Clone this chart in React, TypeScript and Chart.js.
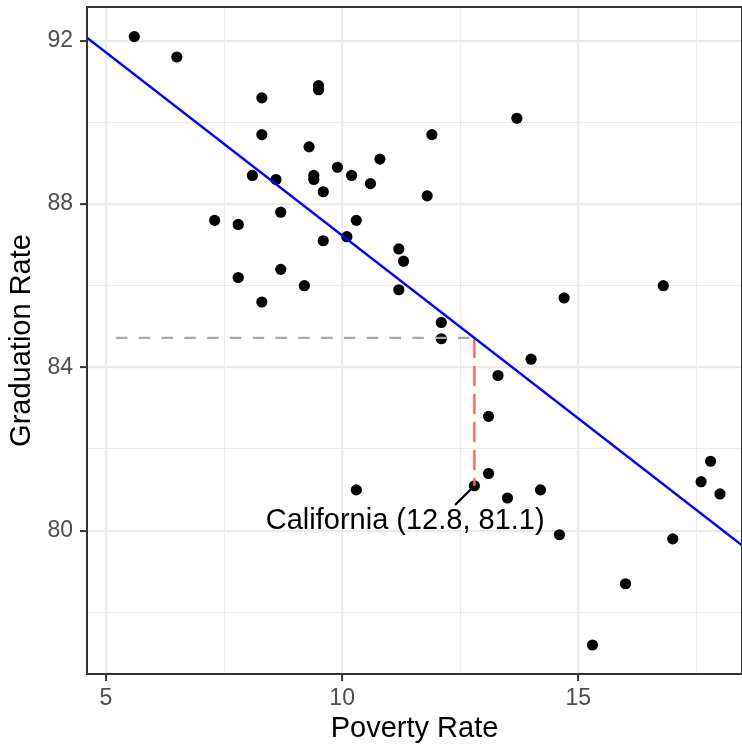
import React, { useEffect, useRef } from "react";
import { Chart, registerables } from "chart.js";

Chart.register(...registerables);

// ---- data ----
const povertyRate = [
  5.6, 6.5, 7.3, 7.8, 8.1, 8.3, 8.3, 8.6, 8.7, 7.8,
  8.7, 8.3, 9.2, 9.5, 9.5, 9.3, 9.4, 9.4, 9.6, 9.9,
  10.2, 10.8, 10.6, 11.9, 11.8, 9.6, 10.3, 10.1, 11.2, 11.3,
  11.2, 12.1, 12.1, 13.3, 14.0, 13.1, 14.7, 16.8, 13.7, 10.3,
  13.1, 12.8, 13.5, 14.2, 14.6, 16.0, 15.3, 17.0, 17.6, 17.8,
  18.0,
];
const graduationRate = [
  92.1, 91.6, 87.6, 87.5, 88.7, 90.6, 89.7, 88.6, 87.8, 86.2,
  86.4, 85.6, 86.0, 90.9, 90.8, 89.4, 88.7, 88.6, 88.3, 88.9,
  88.7, 89.1, 88.5, 89.7, 88.2, 87.1, 87.6, 87.2, 86.9, 86.6,
  85.9, 85.1, 84.7, 83.8, 84.2, 82.8, 85.7, 86.0, 90.1, 81.0,
  81.4, 81.1, 80.8, 81.0, 79.9, 78.7, 77.2, 79.8, 81.2, 81.7,
  80.9,
];

// fitted line
const fitIntercept = 96.19;
const fitSlope = -0.896;

// highlighted state
const highlightName = "California";
const highlightX = 12.8;
const highlightY = 81.1;
const guideStartX = 5.21;
const labelAt = [11.335, 80.24];
const leaderEnd = [12.39, 80.63];

// axes
const xRange = [4.598, 18.466];
const yRange = [76.49, 92.825];
const xTicks = [5, 7.5, 10, 12.5, 15, 17.5];
const xMajor = [5, 10, 15];
const yTicks = [78, 80, 82, 84, 86, 88, 90, 92];
const yMajor = [80, 84, 88, 92];

const FONT = '"Liberation Sans", Arial, sans-serif';

const fitAt = (x: number) => fitIntercept + fitSlope * x;

const overlayPlugin = {
  id: "overlay",
  afterDraw(chart: any) {
    const { ctx, chartArea, scales } = chart;
    ctx.save();
    ctx.font = `29px ${FONT}`;
    ctx.fillStyle = "#000000";
    ctx.textAlign = "center";
    ctx.textBaseline = "middle";
    ctx.fillText(
      `${highlightName} (${highlightX}, ${highlightY})`,
      scales.x.getPixelForValue(labelAt[0]),
      scales.y.getPixelForValue(labelAt[1])
    );
    ctx.strokeStyle = "#333333";
    ctx.lineWidth = 2;
    ctx.strokeRect(
      chartArea.left,
      chartArea.top,
      chartArea.right - chartArea.left,
      chartArea.bottom - chartArea.top
    );
    ctx.restore();
  },
};

export default function App() {
  const ref = useRef<HTMLCanvasElement>(null);

  useEffect(() => {
    document.body.style.margin = "0";
    const points = povertyRate.map((x, i) => ({ x, y: graduationRate[i] }));
    const fitY = fitAt(highlightX);

    const chart = new Chart(ref.current as HTMLCanvasElement, {
      type: "scatter",
      data: {
        datasets: [
          {
            data: [
              { x: xRange[0], y: fitAt(xRange[0]) },
              { x: xRange[1], y: fitAt(xRange[1]) },
            ],
            showLine: true,
            borderColor: "#0000FF",
            borderWidth: 2.4,
            pointRadius: 0,
          },
          {
            data: [
              { x: guideStartX, y: fitY },
              { x: highlightX, y: fitY },
            ],
            showLine: true,
            borderColor: "#A9A9A9",
            borderWidth: 2.4,
            borderDash: [11.5, 11.3],
            pointRadius: 0,
          },
          {
            data: [
              { x: highlightX, y: fitY },
              { x: highlightX, y: highlightY },
            ],
            showLine: true,
            borderColor: "#F8665A",
            borderWidth: 2.4,
            borderDash: [20, 8],
            pointRadius: 0,
          },
          {
            data: [
              { x: highlightX, y: highlightY },
              { x: leaderEnd[0], y: leaderEnd[1] },
            ],
            showLine: true,
            borderColor: "#000000",
            borderWidth: 2.2,
            pointRadius: 0,
          },
          {
            data: points,
            backgroundColor: "#000000",
            borderWidth: 0,
            pointRadius: 5.6,
            pointHoverRadius: 5.6,
          },
        ],
      },
      options: {
        animation: false,
        responsive: false,
        events: [],
        layout: { autoPadding: false, padding: { top: 7, right: 0, bottom: 0, left: 0 } },
        plugins: {
          legend: { display: false },
          tooltip: { enabled: false },
        },
        scales: {
          x: {
            type: "linear",
            min: xRange[0],
            max: xRange[1],
            afterBuildTicks: (s: any) => {
              s.ticks = xTicks.map((v) => ({ value: v }));
            },
            afterFit: (s: any) => {
              s.height = 73;
              s.paddingLeft = 0;
              s.paddingRight = 0;
              s.paddingTop = 0;
              s.paddingBottom = 0;
            },
            border: { display: false },
            grid: {
              color: "#EBEBEB",
              lineWidth: (c: any) => (xMajor.includes(c.tick?.value) ? 2.2 : 1.1),
              tickColor: (c: any) => (xMajor.includes(c.tick?.value) ? "#333333" : "rgba(0,0,0,0)"),
              tickLength: 7,
              tickWidth: 2,
            },
            ticks: {
              autoSkip: false,
              maxRotation: 0,
              padding: 4,
              color: "#4D4D4D",
              font: { family: FONT, size: 23 },
              callback: (v: any) => (xMajor.includes(v) ? String(v) : ""),
            },
            title: {
              display: true,
              text: "Poverty Rate",
              color: "#000000",
              font: { family: FONT, size: 29 },
              padding: { top: 0, bottom: 1 },
            },
          },
          y: {
            type: "linear",
            min: yRange[0],
            max: yRange[1],
            afterBuildTicks: (s: any) => {
              s.ticks = yTicks.map((v) => ({ value: v }));
            },
            afterFit: (s: any) => {
              s.width = 87;
              s.paddingLeft = 0;
              s.paddingRight = 0;
              s.paddingTop = 0;
              s.paddingBottom = 0;
            },
            border: { display: false },
            grid: {
              color: "#EBEBEB",
              lineWidth: (c: any) => (yMajor.includes(c.tick?.value) ? 2.2 : 1.1),
              tickColor: (c: any) => (yMajor.includes(c.tick?.value) ? "#333333" : "rgba(0,0,0,0)"),
              tickLength: 7,
              tickWidth: 2,
            },
            ticks: {
              autoSkip: false,
              padding: 7,
              color: "#4D4D4D",
              font: { family: FONT, size: 23 },
              callback: (v: any) => (yMajor.includes(v) ? String(v) : ""),
            },
            title: {
              display: true,
              text: "Graduation Rate",
              color: "#000000",
              font: { family: FONT, size: 29 },
              padding: { top: 5, bottom: 0 },
            },
          },
        },
      },
      plugins: [overlayPlugin],
    } as any);

    return () => chart.destroy();
  }, []);

  return (
    <div style={{ width: 742, height: 747 }}>
      <canvas ref={ref} width={742} height={747} style={{ display: "block" }} />
    </div>
  );
}
